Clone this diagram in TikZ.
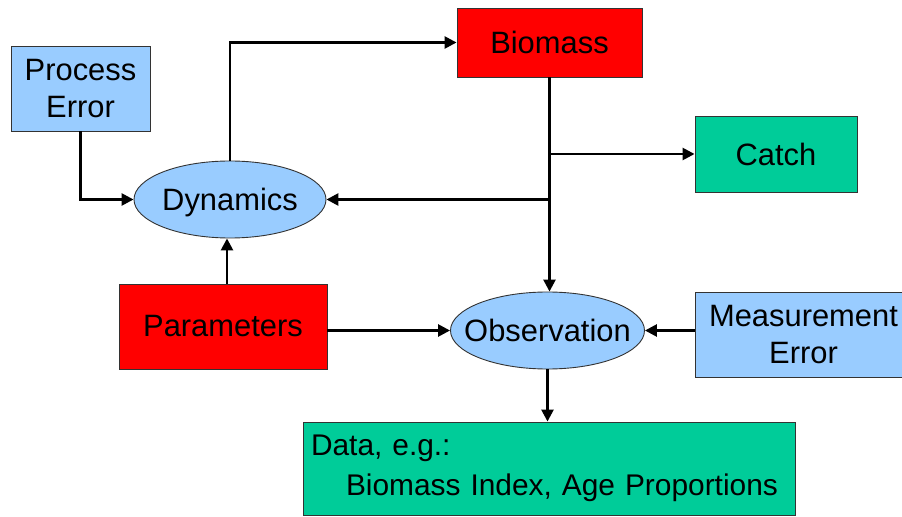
\documentclass[tikz,border=0pt]{standalone}
\usepackage{fontspec}
\setmainfont{Liberation Sans}
\usetikzlibrary{shapes.geometric,arrows.meta,calc}
\definecolor{lblue}{HTML}{99CCFF}
\definecolor{bred}{HTML}{FF0000}
\definecolor{bgreen}{HTML}{00CC99}
\definecolor{edge}{HTML}{333333}
\newcommand{\ovaltext}[1]{\smash{\makebox[0pt]{\raisebox{-0.36em}{#1}}}}
\tikzset{
  box/.style={rectangle, draw=edge, line width=0.9bp, inner sep=0pt, align=center,
    font=\fontsize{31}{37}\selectfont},
  oval/.style={ellipse, draw=edge, line width=0.9bp, inner sep=0pt, fill=lblue,
    font=\fontsize{31}{36}\selectfont},
  conn/.style={line width=2.6bp, -{Triangle[length=12bp,width=12bp]}}
}
\begin{document}
\begin{tikzpicture}[x=1bp,y=-1bp]
\useasboundingbox (0,0) rectangle (902,517);
\begin{scope}
\clip (0,0) rectangle (902,517);
\node[box, fill=lblue, minimum width=139bp, minimum height=85bp] (pe) at (80.5,88.5) {Process\\Error};
\node[oval, minimum width=192bp, minimum height=77bp] (dyn) at (230,199.5) {\ovaltext{Dynamics}};
\node[box, fill=bred, minimum width=185bp, minimum height=69bp] (bio) at (549.5,42.5) {Biomass};
\node[box, fill=bgreen, minimum width=162bp, minimum height=76bp] (catch) at (776,154) {Catch};
\node[box, fill=bred, minimum width=208bp, minimum height=85bp] (par) at (223,326.5) {Parameters};
\node[oval, minimum width=194bp, minimum height=77bp] (obs) at (547.5,330.5) {\ovaltext{Observation}};
\node[box, fill=lblue, minimum width=217bp, minimum height=85bp] (me) at (803.5,334.5) {Measurement\\Error};
\node[box, fill=bgreen, minimum width=492bp, minimum height=93bp, align=left,
  font=\fontsize{30}{40}\selectfont, text width=476bp] (data) at (549,468.5)
  {Data, e.g.:\\\hspace*{35bp}Biomass Index, Age Proportions};
\end{scope}
\coordinate (j1) at (bio.south |- catch.west);
\coordinate (j2) at (bio.south |- dyn.east);
\coordinate (pn) at ([xshift=4bp]par.north);
\draw[conn] (pe.south) |- (dyn.west);
\draw[conn] (dyn.north) |- (bio.west);
\draw[conn] (bio.south) -- (bio.south |- obs.north);
\draw[conn] (j1) -- (catch.west);
\draw[conn] (j2) -- (dyn.east);
\draw[conn] (pn) -- (pn |- dyn.south);
\draw[conn] (obs.west -| par.east) -- (obs.west);
\draw[conn] (obs.east -| me.west) -- (obs.east);
\draw[conn] (obs.south) -- (obs.south |- data.north);
\end{tikzpicture}
\end{document}
